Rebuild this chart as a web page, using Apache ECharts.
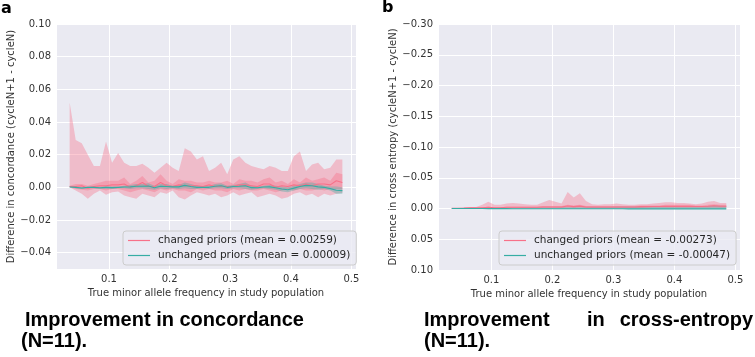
<!DOCTYPE html>
<html>
<head>
<meta charset="utf-8">
<script src="https://cdn.jsdelivr.net/npm/echarts@6/dist/echarts.min.js"></script>
<style>
html, body { margin: 0; padding: 0; background: #fff; }
#main { width: 755px; height: 357px; }
</style>
</head>
<body>
<div id="main"></div>
<script>
// minor allele frequency bins
var freq = [0.035,0.045,0.055,0.065,0.075,0.085,0.095,0.105,0.115,0.125,
            0.135,0.145,0.155,0.165,0.175,0.185,0.195,0.205,0.215,0.225,
            0.235,0.245,0.255,0.265,0.275,0.285,0.295,0.305,0.315,0.325,
            0.335,0.345,0.355,0.365,0.375,0.385,0.395,0.405,0.415,0.425,
            0.435,0.445,0.455,0.465,0.475,0.485];

// panel a: concordance
var concChangedHi = [0.052,0.029,0.027,0.020,0.013,0.013,0.028,0.015,0.021,0.015,
                     0.013,0.013,0.0145,0.012,0.009,0.012,0.015,0.012,0.010,0.024,
                     0.022,0.017,0.019,0.010,0.012,0.015,0.008,0.017,0.019,0.015,
                     0.013,0.012,0.011,0.013,0.012,0.010,0.010,0.019,0.022,0.010,
                     0.014,0.015,0.011,0.012,0.017,0.017];
var concChangedLo = [0.0,-0.002,-0.004,-0.007,-0.004,-0.002,-0.0045,-0.003,-0.0025,-0.005,
                     -0.006,-0.007,-0.004,-0.005,-0.006,-0.003,-0.004,-0.002,-0.006,-0.0075,
                     -0.005,-0.003,-0.004,-0.005,-0.004,-0.006,-0.005,-0.003,-0.005,-0.004,
                     -0.003,-0.006,-0.005,-0.004,-0.005,-0.007,-0.006,-0.004,-0.003,-0.005,
                     -0.004,-0.006,-0.004,-0.005,-0.004,-0.0035];
var concChangedInHi = [0.001,0.002,0.002,0.001,0.002,0.003,0.004,0.004,0.004,0.006,
                       0.002,0.004,0.007,0.003,0.004,0.008,0.004,0.002,0.005,0.004,
                       0.004,0.003,0.003,0.004,0.003,0.003,0.004,0.002,0.005,0.004,
                       0.004,0.003,0.005,0.006,0.003,0.004,0.002,0.005,0.003,0.006,
                       0.004,0.005,0.006,0.004,0.009,0.008];
var concChangedInLo = [0.0,-0.001,-0.0015,-0.002,-0.001,-0.001,-0.002,-0.001,-0.001,-0.002,
                       -0.003,-0.002,-0.001,-0.002,-0.003,-0.001,-0.002,-0.001,-0.002,-0.002,
                       -0.003,-0.001,-0.002,-0.001,-0.002,-0.002,-0.003,-0.001,-0.002,-0.001,
                       -0.002,-0.002,-0.001,-0.002,-0.003,-0.002,-0.001,-0.002,-0.001,-0.002,
                       -0.002,-0.001,-0.002,-0.001,-0.001,-0.001];
var concChangedMean = [0.0005,0.0005,0.001,-0.0005,0.0005,0.001,0.001,0.0015,0.0015,0.002,
                       0.0,0.001,0.003,0.0005,0.0005,0.003,0.001,0.0005,0.0015,0.001,
                       0.001,0.001,0.0005,0.0015,0.0005,0.0005,0.0005,0.0005,0.0015,0.0015,
                       0.001,0.0005,0.002,0.002,0.0,0.001,0.0005,0.0015,0.001,0.002,
                       0.001,0.002,0.002,0.0015,0.004,0.003];
var concUnchHi = [0.0005,0.0003,0.0,0.0003,0.0005,0.0003,0.0005,0.0005,0.0003,0.001,
                  0.0015,0.002,0.002,0.0025,0.001,0.002,0.002,0.001,0.0015,0.003,
                  0.002,0.001,0.0005,0.001,0.002,0.0025,0.001,0.0015,0.002,0.003,
                  0.001,0.0005,0.001,0.0015,0.001,0.0005,0.0,0.001,0.002,0.003,
                  0.003,0.002,0.001,0.0005,0.0005,0.0];
var concUnchLo = [0.0,-0.0005,-0.001,-0.0005,-0.0005,-0.001,-0.0005,-0.001,-0.0005,-0.0005,
                  -0.001,-0.0005,-0.0005,-0.001,-0.0015,-0.0005,-0.001,-0.0005,-0.001,-0.0005,
                  -0.001,-0.001,-0.0005,-0.001,-0.0005,-0.0005,-0.001,-0.0005,-0.0005,-0.001,
                  -0.0015,-0.001,-0.0005,-0.001,-0.0015,-0.0025,-0.003,-0.002,-0.001,-0.0005,
                  -0.001,-0.0015,-0.001,-0.002,-0.004,-0.004];
var concUnchMean = [0.0002,0.0,-0.0004,0.0,0.0,-0.0003,0.0,-0.0002,0.0,0.0002,
                    0.0003,0.0007,0.0007,0.0008,-0.0003,0.0007,0.0005,0.0003,0.0003,0.0012,
                    0.0005,0.0,0.0,0.0,0.0007,0.001,0.0,0.0005,0.0007,0.001,
                    -0.0002,-0.0003,0.0002,0.0003,-0.0003,-0.001,-0.0015,-0.0005,0.0005,0.0012,
                    0.001,0.0003,0.0,-0.0008,-0.0018,-0.002];

// panel b: cross entropy
var ceChangedHi = [-0.0005,-0.001,-0.0015,-0.002,-0.0025,-0.006,-0.011,-0.006,-0.006,-0.008,
                   -0.009,-0.008,-0.007,-0.006,-0.006,-0.010,-0.014,-0.011,-0.008,-0.027,
                   -0.018,-0.025,-0.012,-0.007,-0.006,-0.007,-0.007,-0.008,-0.007,-0.006,
                   -0.006,-0.007,-0.007,-0.008,-0.009,-0.010,-0.010,-0.009,-0.009,-0.008,
                   -0.007,-0.008,-0.011,-0.012,-0.009,-0.009];
var ceChangedLo = [0.0005,0.0005,0.0005,0.0005,0.0005,0.0005,0.001,0.0005,0.0005,0.0005,
                   0.0005,0.0005,0.0005,0.0005,0.0005,0.0005,0.001,0.0005,0.0005,0.001,
                   0.0005,0.001,0.0005,0.0005,0.0005,0.0005,0.0005,0.0005,0.0005,0.0005,
                   0.0005,0.0005,0.0005,0.0005,0.0005,0.0005,0.0005,0.0005,0.0005,0.0005,
                   0.0005,0.0005,0.0005,0.0005,0.0005,0.0005];
var ceChangedInHi = [-0.0005,-0.001,-0.001,-0.0015,-0.0015,-0.002,-0.003,-0.002,-0.002,-0.003,
                     -0.003,-0.003,-0.003,-0.003,-0.003,-0.004,-0.004,-0.004,-0.004,-0.006,
                     -0.005,-0.006,-0.004,-0.004,-0.004,-0.004,-0.004,-0.004,-0.004,-0.004,
                     -0.004,-0.005,-0.005,-0.005,-0.005,-0.006,-0.006,-0.006,-0.006,-0.006,
                     -0.005,-0.005,-0.006,-0.007,-0.006,-0.006];
var ceChangedInLo = [0.0,0.0,-0.0005,-0.0005,-0.0005,-0.0005,-0.001,-0.0005,-0.0005,-0.001,
                     -0.001,-0.001,-0.001,-0.001,-0.001,-0.001,-0.001,-0.001,-0.001,-0.0015,
                     -0.001,-0.0015,-0.001,-0.001,-0.001,-0.001,-0.001,-0.001,-0.001,-0.001,
                     -0.001,-0.001,-0.0015,-0.0015,-0.0015,-0.0015,-0.0015,-0.0015,-0.0015,-0.0015,
                     -0.0015,-0.0015,-0.0015,-0.002,-0.0015,-0.0015];
var ceChangedMean = [-0.0003,-0.0005,-0.0007,-0.001,-0.001,-0.0012,-0.002,-0.0013,-0.0013,-0.002,
                     -0.002,-0.002,-0.002,-0.002,-0.002,-0.0025,-0.0025,-0.0025,-0.0025,-0.004,
                     -0.003,-0.0038,-0.0025,-0.0025,-0.0025,-0.0025,-0.0025,-0.0025,-0.0025,-0.0025,
                     -0.0025,-0.003,-0.003,-0.0032,-0.0032,-0.0035,-0.0035,-0.0035,-0.0035,-0.0035,
                     -0.0032,-0.0032,-0.0037,-0.0045,-0.0037,-0.0037];
var ceUnchHi = [-0.0003,-0.0005,-0.0005,-0.0007,-0.0008,-0.001,-0.001,-0.001,-0.0012,-0.0012,
                -0.0013,-0.0014,-0.0015,-0.0015,-0.0016,-0.0017,-0.0018,-0.0018,-0.002,-0.002,
                -0.002,-0.0022,-0.0022,-0.0023,-0.0025,-0.0025,-0.0026,-0.0027,-0.0028,-0.003,
                -0.003,-0.003,-0.0032,-0.0033,-0.0034,-0.0035,-0.0036,-0.0037,-0.0038,-0.0038,
                -0.004,-0.004,-0.0042,-0.0045,-0.0043,-0.0042];
var ceUnchLo = [0.0003,0.0004,0.0004,0.0005,0.0005,0.0005,0.0006,0.0006,0.0006,0.0006,
                0.0007,0.0007,0.0007,0.0007,0.0007,0.0008,0.0008,0.0008,0.0008,0.0008,
                0.0008,0.0008,0.0008,0.0008,0.0009,0.0009,0.0009,0.0009,0.0009,0.001,
                0.001,0.001,0.001,0.001,0.001,0.001,0.001,0.001,0.001,0.001,
                0.001,0.001,0.001,0.001,0.001,0.001];
var ceUnchMean = [0.0,0.0,0.0,0.0001,0.0001,0.0001,0.0002,0.0002,0.0002,0.0002,
                  0.0003,0.0003,0.0003,0.0003,0.0003,0.0004,0.0004,0.0004,0.0004,0.0004,
                  0.0004,0.0004,0.0005,0.0005,0.0005,0.0005,0.0005,0.0005,0.0005,0.0006,
                  0.0006,0.0006,0.0006,0.0006,0.0006,0.0006,0.0006,0.0006,0.0006,0.0006,
                  0.0006,0.0006,0.0006,0.0006,0.0006,0.0006];

var concLegend = ['changed priors (mean = 0.00259)', 'unchanged priors (mean = 0.00009)'];
var ceLegend = ['changed priors (mean = -0.00273)', 'unchanged priors (mean = -0.00047)'];
var xTicks = [0.1, 0.2, 0.3, 0.4, 0.5];
var concTicks = [-0.04, -0.02, 0.00, 0.02, 0.04, 0.06, 0.08, 0.10];
var ceTicks = [-0.30, -0.25, -0.20, -0.15, -0.10, -0.05, 0.00, 0.05, 0.10];

var pink = '#f77189';
var teal = '#36ada4';
var font = 'DejaVu Sans';

function pairs(ys) {
    return freq.map(function(x, i) { return [x, ys[i]]; });
}
function fmt(v) {
    return (v < -1e-9 ? '\u2212' : '') + Math.abs(v).toFixed(2);
}

// filled band between lo and hi, one polygon placed through the axes
function band(idx, lo, hi, color, opacity) {
    return {
        type: 'custom', xAxisIndex: idx, yAxisIndex: idx, silent: true,
        data: freq.map(function(x, i) { return [x, lo[i], hi[i]]; }),
        encode: { x: 0, y: [1, 2] },
        renderItem: function(params, api) {
            if (params.dataIndex !== 0) return null;
            var pts = [];
            for (var i = 0; i < freq.length; i++) pts.push(api.coord([freq[i], hi[i]]));
            for (var j = freq.length - 1; j >= 0; j--) pts.push(api.coord([freq[j], lo[j]]));
            return { type: 'polygon', shape: { points: pts }, style: { fill: color, opacity: opacity } };
        }
    };
}
function meanLine(name, idx, ys, color) {
    return {
        name: name, type: 'line', xAxisIndex: idx, yAxisIndex: idx,
        data: pairs(ys), symbol: 'none', silent: true,
        lineStyle: { color: color, width: 1.1 },
        itemStyle: { color: color }
    };
}
function xAxis(idx) {
    return {
        type: 'value', gridIndex: idx, min: 0.0125, max: 0.5075,
        axisLine: { show: false }, axisTick: { show: false },
        axisLabel: { customValues: xTicks, margin: 5, color: '#333', fontSize: 10, fontFamily: font,
                     formatter: function(v) { return v.toFixed(1); } },
        splitLine: { lineStyle: { color: '#ffffff', width: 1 } },
        name: 'True minor allele frequency in study population',
        nameLocation: 'middle', nameGap: 16,
        nameTextStyle: { color: '#333', fontSize: 10, fontFamily: font }
    };
}
function legend(left, names) {
    return {
        left: left, top: 231, orient: 'vertical',
        data: names.map(function(n) { return { name: n, icon: 'rect' }; }),
        itemWidth: 22, itemHeight: 1.2, itemGap: 4,
        padding: [4, 6, 4, 5],
        backgroundColor: 'rgba(234,234,242,0.8)', borderColor: '#cccccc', borderWidth: 1, borderRadius: 3,
        textStyle: { color: '#262626', fontSize: 10.5, fontFamily: font, padding: [0, 0, 0, 3] }
    };
}

var series = [
    band(0, concChangedLo, concChangedHi, pink, 0.38),
    band(0, concChangedInLo, concChangedInHi, pink, 0.4),
    band(0, concUnchLo, concUnchHi, teal, 0.35),
    meanLine(concLegend[0], 0, concChangedMean, pink),
    meanLine(concLegend[1], 0, concUnchMean, teal),
    band(1, ceChangedLo, ceChangedHi, pink, 0.38),
    band(1, ceChangedInLo, ceChangedInHi, pink, 0.4),
    band(1, ceUnchLo, ceUnchHi, teal, 0.35),
    meanLine(ceLegend[0], 1, ceChangedMean, pink),
    meanLine(ceLegend[1], 1, ceUnchMean, teal)
];

var myChart = echarts.init(document.getElementById('main'), null, { renderer: 'canvas' });
var option = {
    animation: false,
    grid: [
        { left: 56, top: 24, width: 300, height: 245, show: true, backgroundColor: '#eaeaf2', borderWidth: 0 },
        { left: 438, top: 24, width: 302, height: 246, show: true, backgroundColor: '#eaeaf2', borderWidth: 0 }
    ],
    xAxis: [xAxis(0), xAxis(1)],
    yAxis: [{
        type: 'value', gridIndex: 0, min: -0.05, max: 0.10, splitNumber: 8,
        axisLine: { show: false }, axisTick: { show: false },
        axisLabel: { customValues: concTicks, margin: 5, color: '#333', fontSize: 10, fontFamily: font, formatter: fmt },
        splitLine: { lineStyle: { color: '#ffffff', width: 1 } },
        name: 'Difference in concordance (cycleN+1 - cycleN)',
        nameLocation: 'middle', nameGap: 40,
        nameTextStyle: { color: '#333', fontSize: 10, fontFamily: font }
    }, {
        type: 'value', gridIndex: 1, min: -0.30, max: 0.10, splitNumber: 8, inverse: true,
        axisLine: { show: false }, axisTick: { show: false },
        axisLabel: { customValues: ceTicks, margin: 5, color: '#333', fontSize: 10, fontFamily: font, formatter: fmt },
        splitLine: { lineStyle: { color: '#ffffff', width: 1 } },
        name: 'Difference in cross entropy (cycleN+1 - cycleN)',
        nameLocation: 'middle', nameGap: 37,
        nameTextStyle: { color: '#333', fontSize: 10, fontFamily: font }
    }],
    legend: [legend(123, concLegend), legend(499, ceLegend)],
    graphic: [
        { type: 'text', left: 1, top: 1, style: { text: 'a', font: 'bold 16px "DejaVu Sans"', fill: '#000' } },
        { type: 'text', left: 382, top: 0, style: { text: 'b', font: 'bold 16px "DejaVu Sans"', fill: '#000' } },
        { type: 'text', x: 25, y: 320, style: { text: 'Improvement in concordance', font: 'bold 20px "Liberation Sans"', fill: '#000', verticalAlign: 'middle' } },
        { type: 'text', x: 21, y: 341, style: { text: '(N=11).', font: 'bold 20px "Liberation Sans"', fill: '#000', verticalAlign: 'middle' } },
        { type: 'text', x: 424, y: 320, style: { text: 'Improvement', font: 'bold 20px "Liberation Sans"', fill: '#000', verticalAlign: 'middle' } },
        { type: 'text', x: 587, y: 320, style: { text: 'in', font: 'bold 20px "Liberation Sans"', fill: '#000', verticalAlign: 'middle' } },
        { type: 'text', x: 753, y: 320, style: { text: 'cross-entropy', font: 'bold 20px "Liberation Sans"', fill: '#000', verticalAlign: 'middle', align: 'right' } },
        { type: 'text', x: 424, y: 341, style: { text: '(N=11).', font: 'bold 20px "Liberation Sans"', fill: '#000', verticalAlign: 'middle' } }
    ],
    series: series
};
myChart.setOption(option);
window.onresize = function() {
    myChart.resize();
};
</script>
</body>
</html>
